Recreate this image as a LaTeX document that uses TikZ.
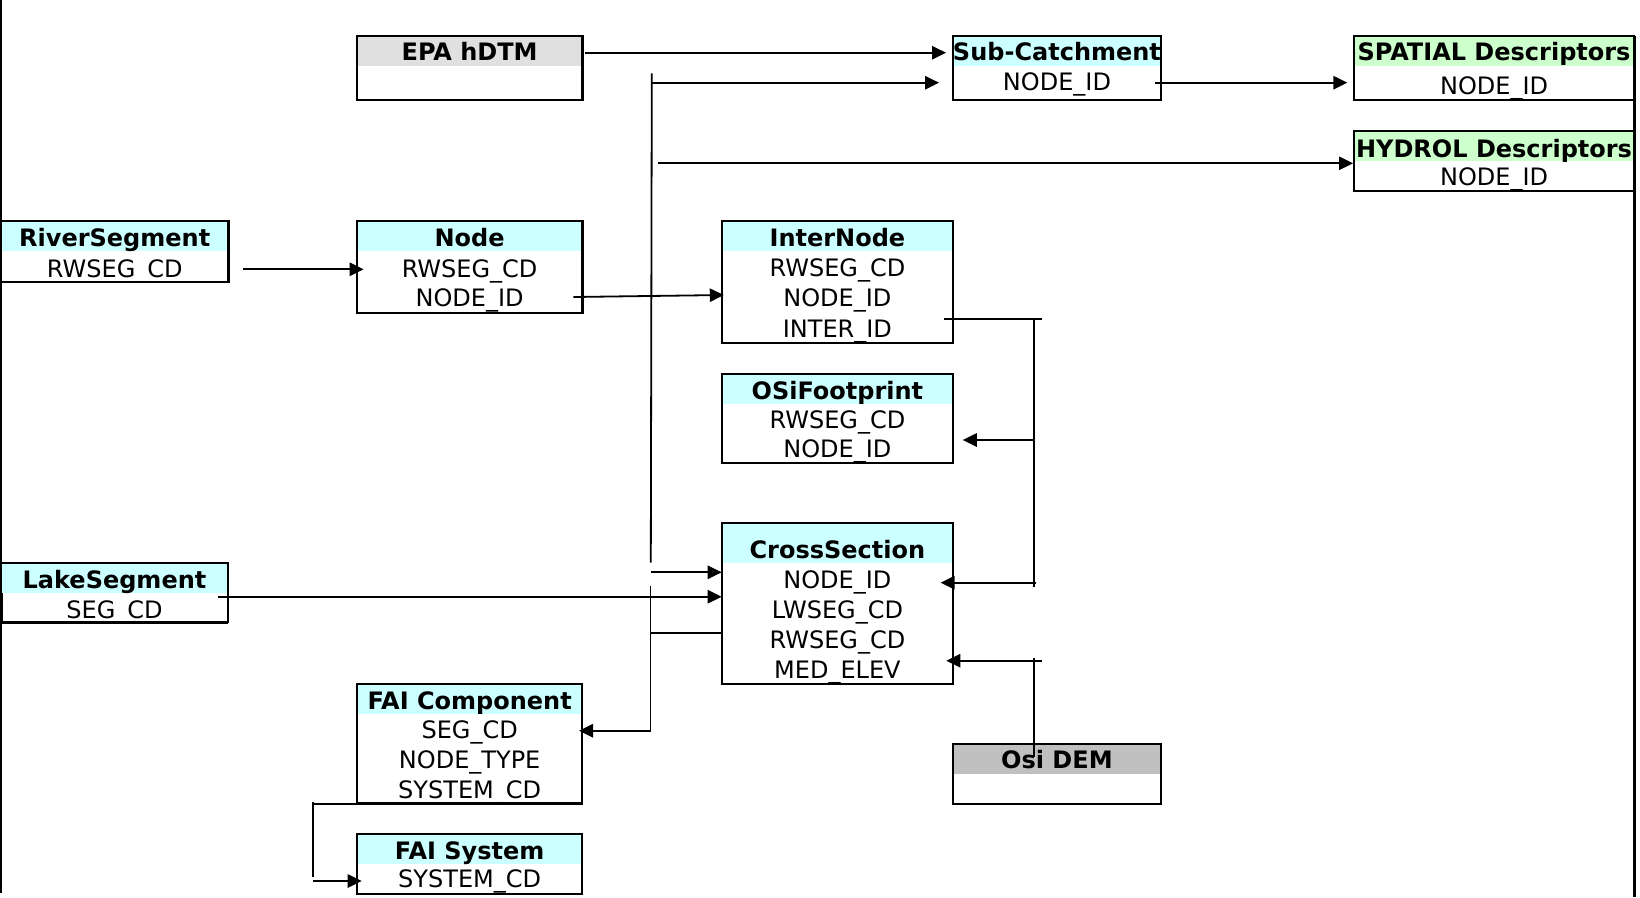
\documentclass[tikz,border=0pt]{standalone}
\usepackage{fontspec}
\setmainfont{DejaVu Sans}
\usetikzlibrary{arrows.meta,calc}
\definecolor{hdcyan}{HTML}{CCFFFF}
\definecolor{hdgreen}{HTML}{CCFFCC}
\definecolor{hdepa}{HTML}{E0E0E0}
\definecolor{hddem}{HTML}{C0C0C0}
\newcommand\mktable[7]{%
  \fill[#7] (#2,#3) rectangle ++(#4,#6);
  \node[tbox, minimum width=#4*0.75pt, minimum height=#5*0.75pt, anchor=north west] (#1) at (#2,#3) {};
}
\newcommand\ttitle[4]{\node[ttlst] (#1) at ($(#2.north)+(0,#3)$) {#4};}
\newcommand\tfield[4]{\node[fldst] (#1) at ($(#2.north)+(0,#3)$) {#4};}
\begin{document}
\begin{tikzpicture}[x=0.75pt,y=-0.75pt,
  tbox/.style={draw, line width=1.7pt, inner sep=0pt, outer sep=0pt, rectangle},
  ttlst/.style={font=\fontsize{18}{21}\selectfont\bfseries, anchor=base, inner sep=0pt},
  fldst/.style={font=\fontsize{18}{21}\selectfont, anchor=base, inner sep=0pt},
  conn/.style={line width=1.35pt},
  arr/.style={conn, -{Triangle[length=10.5pt,width=10pt]}},
  border/.style={line width=2.2pt}]
\useasboundingbox (0,0) rectangle (1640,897);
% tables
\mktable{epa}{356.7}{35.7}{225.8}{64.3}{30}{hdepa}
\mktable{subc}{952.7}{35.7}{208.5}{64.3}{30}{hdcyan}
\mktable{spat}{1353.8}{35.7}{280.5}{64.3}{30}{hdgreen}
\mktable{hydr}{1353.8}{131}{280.5}{59.7}{30}{hdgreen}
\mktable{river}{1}{220.7}{227.5}{61.3}{30}{hdcyan}
\mktable{nodet}{356.7}{220.7}{225.8}{92.6}{30}{hdcyan}
\mktable{inter}{722}{220.7}{230.8}{122.6}{30}{hdcyan}
\mktable{osif}{722}{374}{230.8}{89}{29.5}{hdcyan}
\mktable{cross}{722}{522.7}{230.8}{161}{40}{hdcyan}
\mktable{osidem}{952.7}{744}{208.5}{60}{30}{hddem}
\mktable{lake}{1}{563.3}{227}{59}{30}{hdcyan}
\draw[line width=2.6pt] (lake.north west |- 0,593.3) -- (lake.south west) -- (lake.south east);
\mktable{faic}{357}{684}{225.3}{119.5}{30}{hdcyan}
\mktable{fais}{357}{834}{225.3}{60}{30}{hdcyan}
% texts
\ttitle{epa-t}{epa}{24.7}{EPA hDTM}
\ttitle{subc-t}{subc}{24.7}{Sub-Catchment}
\tfield{subc-1}{subc}{54.7}{NODE\_ID}
\ttitle{spat-t}{spat}{24.7}{SPATIAL Descriptors}
\tfield{spat-1}{spat}{59}{NODE\_ID}
\ttitle{hydr-t}{hydr}{26}{HYDROL Descriptors}
\tfield{hydr-1}{hydr}{54.4}{NODE\_ID}
\ttitle{river-t}{river}{25.3}{RiverSegment}
\tfield{river-1}{river}{56.6}{RWSEG\_CD}
\ttitle{nodet-t}{nodet}{25.3}{Node}
\tfield{nodet-1}{nodet}{56.6}{RWSEG\_CD}
\tfield{nodet-2}{nodet}{86}{NODE\_ID}
\ttitle{inter-t}{inter}{25.3}{InterNode}
\tfield{inter-1}{inter}{55.8}{RWSEG\_CD}
\tfield{inter-2}{inter}{85.8}{NODE\_ID}
\tfield{inter-3}{inter}{116.3}{INTER\_ID}
\ttitle{osif-t}{osif}{25.4}{OSiFootprint}
\tfield{osif-1}{osif}{54}{RWSEG\_CD}
\tfield{osif-2}{osif}{83}{NODE\_ID}
\ttitle{cross-t}{cross}{36}{CrossSection}
\tfield{cross-1}{cross}{65.5}{NODE\_ID}
\tfield{cross-2}{cross}{96}{LWSEG\_CD}
\tfield{cross-3}{cross}{126}{RWSEG\_CD}
\tfield{cross-4}{cross}{156}{MED\_ELEV}
\ttitle{osidem-t}{osidem}{24.7}{Osi DEM}
\ttitle{lake-t}{lake}{24.7}{LakeSegment}
\tfield{lake-1}{lake}{55.4}{SEG\_CD}
\ttitle{faic-t}{faic}{25.7}{FAI Component}
\tfield{faic-1}{faic}{54.7}{SEG\_CD}
\tfield{faic-2}{faic}{84.7}{NODE\_TYPE}
\tfield{faic-3}{faic}{114}{SYSTEM\_CD}
\ttitle{fais-t}{fais}{25.4}{FAI System}
\tfield{fais-1}{fais}{53}{SYSTEM\_CD}
% page border lines
\coordinate (bl1) at (1,0);
\coordinate (bl2) at (1,893);
\coordinate (br1) at (1634.5,35.7);
\coordinate (br2) at (1634.5,897);
\draw[border] (bl1) -- (bl2);
\draw[border] (br1) -- (br2);
% connector points
\coordinate (e1) at (585,52.7);
\coordinate (e2) at (946,52.7);
\coordinate (b1top) at (651.8,73.3);
\coordinate (b1bot) at (650.8,562.7);
\coordinate (s1) at (651.6,82.7);
\coordinate (s2) at (939,82.7);
\coordinate (h1) at (657.6,163.3);
\coordinate (h2) at (1353,163.3);
\coordinate (sp1) at (1155,82.7);
\coordinate (sp2) at (1347.3,82.7);
\coordinate (r1) at (243.4,269.3);
\coordinate (r2) at (363.6,269.3);
\coordinate (n1) at (573.3,297);
\coordinate (n2) at (723.8,295);
\coordinate (i1) at (944.3,319.3);
\coordinate (i2) at (1042.3,319.3);
\coordinate (iv1) at (1034.3,319.3);
\coordinate (iv2) at (1034.3,586.7);
\coordinate (of1) at (1034.3,440);
\coordinate (of2) at (962.8,440);
\coordinate (cn1) at (1036,582.7);
\coordinate (cn2) at (940.6,582.7);
\coordinate (dv1) at (1034.3,658.3);
\coordinate (dv2) at (1034.3,756.7);
\coordinate (dh1) at (1042,660.7);
\coordinate (dh2) at (946.3,660.7);
\coordinate (ca1) at (650.7,572.3);
\coordinate (ca2) at (721.7,572.3);
\coordinate (la1) at (218.3,596.7);
\coordinate (la2) at (721.7,596.7);
\coordinate (b2top) at (650.5,586);
\coordinate (b2bot) at (650.5,730.7);
\coordinate (fa2) at (579,730.7);
\coordinate (rw1) at (650.5,632.7);
\coordinate (rw2) at (721.7,632.7);
\coordinate (fs0) at (313.3,801.7);
\coordinate (fs1) at (313.3,804.3);
\coordinate (fs2) at (361.7,804.3);
\coordinate (fs3) at (313.3,877);
\coordinate (fs4) at (313.3,881);
\coordinate (fs5) at (361.7,881);
% connectors
\draw[arr] (e1) -- (e2);
\draw[conn] (b1top) -- (b1bot);
\draw[arr] (s1) -- (s2);
\draw[arr] (h1) -- (h2);
\draw[arr] (sp1) -- (sp2);
\draw[arr] (r1) -- (r2);
\draw[arr] (n1) -- (n2);
\draw[conn] (i1) -- (i2);
\draw[conn] (iv1) -- (iv2);
\draw[arr] (of1) -- (of2);
\draw[arr] (cn1) -- (cn2);
\draw[conn] (dv1) -- (dv2);
\draw[arr] (dh1) -- (dh2);
\draw[arr] (ca1) -- (ca2);
\draw[arr] (la1) -- (la2);
\draw[arr] (b2top) -- (b2bot) -- (fa2);
\draw[conn] (rw1) -- (rw2);
\draw[conn] (fs0) -- (fs3);
\draw[conn] (fs1) -- (fs2);
\draw[arr] (fs4) -- (fs5);
\end{tikzpicture}
\end{document}
